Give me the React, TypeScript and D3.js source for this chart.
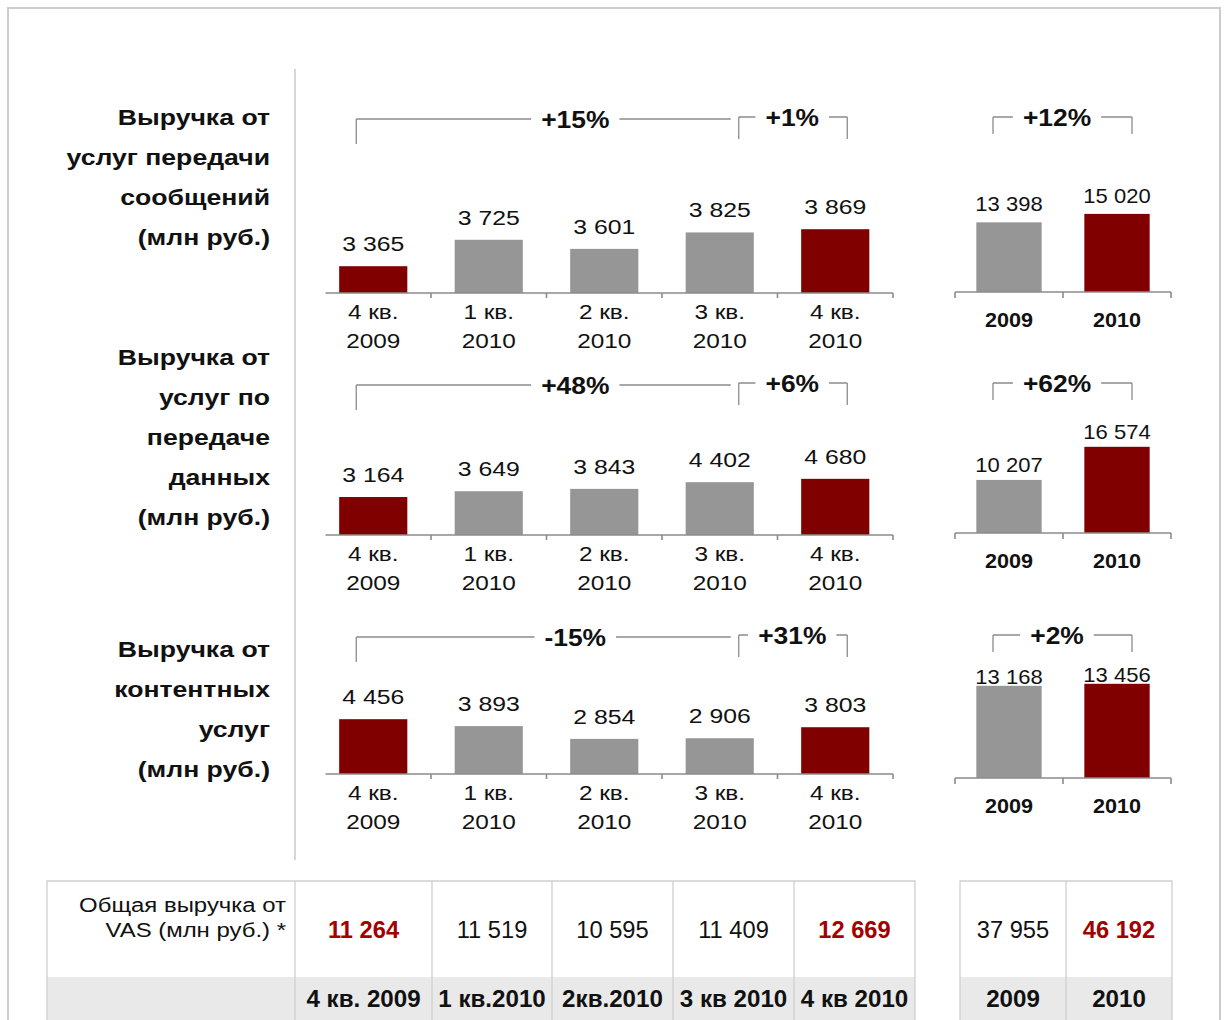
import React from "react";
import * as d3 from "d3";

// ---------- data ----------
const quarterLine1 = ["4 кв.", "1 кв.", "2 кв.", "3 кв.", "4 кв."];
const quarterLine2 = ["2009", "2010", "2010", "2010", "2010"];
const years = ["2009", "2010"];

const msgQuarterly = [3365, 3725, 3601, 3825, 3869];
const msgAnnual = [13398, 15020];
const dataQuarterly = [3164, 3649, 3843, 4402, 4680];
const dataAnnual = [10207, 16574];
const contentQuarterly = [4456, 3893, 2854, 2906, 3803];
const contentAnnual = [13168, 13456];

const msgGrowth = ["+15%", "+1%", "+12%"];
const dataGrowth = ["+48%", "+6%", "+62%"];
const contentGrowth = ["-15%", "+31%", "+2%"];

const msgTitle = ["Выручка от", "услуг передачи", "сообщений", "(млн руб.)"];
const dataTitle = ["Выручка от", "услуг по", "передаче", "данных", "(млн руб.)"];
const contentTitle = ["Выручка от", "контентных", "услуг", "(млн руб.)"];

const tableLabel = ["Общая выручка от", "VAS (млн руб.) *"];
const tableQuarterValues = ["11 264", "11 519", "10 595", "11 409", "12 669"];
const tableAnnualValues = ["37 955", "46 192"];
const tableQuarterHeaders = ["4 кв. 2009", "1 кв.2010", "2кв.2010", "3 кв 2010", "4 кв 2010"];
const tableYearHeaders = ["2009", "2010"];

const highlightQuarter = [true, false, false, false, true];
const highlightYear = [false, true];

// ---------- style ----------
const FONT = "'Liberation Sans', Arial, Helvetica, sans-serif";
const RED = "#800000";
const GRAY = "#969696";
const TXT_RED = "#a30000";
const AXIS = "#8c8c8c";
const BRACKET = "#8c8c8c";

const W = 1226;
const H = 1020;

const fmt = (v: number) => d3.format(",")(v).replace(/,/g, " ");

const xQ = d3
  .scaleBand<number>()
  .domain(d3.range(5))
  .range([315.5, 893])
  .paddingInner(0.41)
  .paddingOuter(0.205);

const xA = d3
  .scaleBand<number>()
  .domain(d3.range(2))
  .range([955, 1171])
  .paddingInner(0.395)
  .paddingOuter(0.1975);

type Panel = {
  title: string[];
  titleY: number;
  q: number[];
  a: number[];
  growth: string[];
  baseQ: number;
  baseA: number;
  qDomain: [number, number];
  qPix: number;
  aDomain: [number, number];
  aPix: number;
  aLabelOff: number;
  pctY: number;
};

const panels: Panel[] = [
  {
    title: msgTitle, titleY: 117, q: msgQuarterly, a: msgAnnual, growth: msgGrowth,
    baseQ: 293, baseA: 292, qDomain: [3000, 4000], qPix: 73.4, aDomain: [0, 20000], aPix: 104,
    aLabelOff: 11, pctY: 117,
  },
  {
    title: dataTitle, titleY: 357, q: dataQuarterly, a: dataAnnual, growth: dataGrowth,
    baseQ: 535, baseA: 533, qDomain: [0, 5000], qPix: 60, aDomain: [0, 20000], aPix: 104,
    aLabelOff: 8, pctY: 383,
  },
  {
    title: contentTitle, titleY: 649, q: contentQuarterly, a: contentAnnual, growth: contentGrowth,
    baseQ: 774, baseA: 778, qDomain: [0, 5000], qPix: 61.5, aDomain: [0, 20000], aPix: 140,
    aLabelOff: 2, pctY: 635,
  },
];

// horizontally stretched text (the reference slide is rendered slightly wide)
function SText({ x, y, sx = 1, children, ...rest }: any) {
  return (
    <text transform={`translate(${x},${y}) scale(${sx},1)`} {...rest}>
      {children}
    </text>
  );
}

const charW: Record<string, number> = { "+": 0.584, "-": 0.333, "%": 0.889 };
function pctWidth(s: string, size: number, sx: number) {
  let w = 0;
  for (const c of s) w += charW[c] ?? 0.556;
  return w * size * sx;
}

function Bracket({ x1, x2, tx, y, tick, label, leftTick = true, rightTick = true }: any) {
  const size = 24;
  const sx = 1.1;
  const half = Math.min(pctWidth(label, size, sx) / 2 + 10, 45);
  return (
    <g>
      <path
        d={`M${x1},${y}H${Math.max(x1, tx - half)}M${Math.min(x2, tx + half)},${y}H${x2}` +
          (leftTick ? `M${x1},${y}V${y + tick}` : "") +
          (rightTick ? `M${x2},${y}V${y + tick}` : "")}
        stroke={BRACKET}
        strokeWidth={1.3}
        fill="none"
      />
      <SText x={tx} y={y + 8.5} sx={sx} textAnchor="middle" fontSize={size} fontWeight="bold">
        {label}
      </SText>
    </g>
  );
}

function PanelView({ p }: { p: Panel }) {
  const yQ = d3.scaleLinear().domain(p.qDomain).range([p.baseQ, p.baseQ - p.qPix]);
  const yA = d3.scaleLinear().domain(p.aDomain).range([p.baseA, p.baseA - p.aPix]);
  const bw = xQ.bandwidth();
  const bwA = xA.bandwidth();
  const cx = (i: number) => (xQ(i) as number) + bw / 2;
  const cxA = (i: number) => (xA(i) as number) + bwA / 2;
  const step = xQ.step();
  const [q0, q1] = xQ.range();
  const [a0, a1] = xA.range();
  return (
    <g>
      {p.title.map((t, i) => (
        <SText key={i} x={270} y={p.titleY + 8 + i * 40} sx={1.21} textAnchor="end" fontSize={22} fontWeight="bold">
          {t}
        </SText>
      ))}
      {/* quarterly bars */}
      {p.q.map((v, i) => (
        <g key={i}>
          <rect
            x={xQ(i)}
            y={yQ(v)}
            width={bw}
            height={p.baseQ - yQ(v)}
            fill={highlightQuarter[i] ? RED : GRAY}
          />
          <SText x={cx(i)} y={yQ(v) - 15} sx={1.18} textAnchor="middle" fontSize={21}>
            {fmt(v)}
          </SText>
          <SText x={cx(i)} y={p.baseQ + 26} sx={1.16} textAnchor="middle" fontSize={21}>
            {quarterLine1[i]}
          </SText>
          <SText x={cx(i)} y={p.baseQ + 55} sx={1.16} textAnchor="middle" fontSize={21}>
            {quarterLine2[i]}
          </SText>
        </g>
      ))}
      <path
        d={`M${q0 + 10},${p.baseQ}H${q1}` +
          d3.range(1, 6).map((k) => `M${q0 + k * step},${p.baseQ}v5`).join("")}
        stroke={AXIS}
        strokeWidth={1.6}
        fill="none"
      />
      {/* annual bars */}
      {p.a.map((v, i) => (
        <g key={i}>
          <rect
            x={xA(i)}
            y={yA(v)}
            width={bwA}
            height={p.baseA - yA(v)}
            fill={highlightYear[i] ? RED : GRAY}
          />
          <SText x={cxA(i)} y={yA(v) - p.aLabelOff} sx={1.1} textAnchor="middle" fontSize={20}>
            {fmt(v)}
          </SText>
          <SText x={cxA(i)} y={p.baseA + 35} sx={1.08} textAnchor="middle" fontSize={20} fontWeight="bold">
            {years[i]}
          </SText>
        </g>
      ))}
      <path
        d={`M${a0},${p.baseA}H${a1}` +
          d3.range(0, 3).map((k) => `M${a0 + k * xA.step()},${p.baseA}v6`).join("")}
        stroke={AXIS}
        strokeWidth={1.6}
        fill="none"
      />
      {/* growth brackets */}
      <Bracket
        x1={cx(0) - 17}
        x2={cx(3) + 11}
        tx={cx(2) - 29}
        y={p.pctY + 2}
        tick={25}
        label={p.growth[0]}
        rightTick={false}
      />
      <Bracket x1={cx(3) + 19} x2={cx(4) + 12} tx={cx(4) - 43} y={p.pctY} tick={22} label={p.growth[1]} />
      <Bracket x1={cxA(0) - 16} x2={cxA(1) + 15} tx={(cxA(0) + cxA(1)) / 2 - 6} y={p.pctY} tick={17} label={p.growth[2]} />
    </g>
  );
}

const tableCols = [295, 432, 552, 673, 794, 915];
const tableColsA = [960, 1066, 1172];

function Table() {
  const top = 881;
  const mid = 977;
  const bot = 1030;
  return (
    <g>
      <rect x={47} y={mid} width={915 - 47} height={bot - mid} fill="#e9e9e9" />
      <rect x={960} y={mid} width={1172 - 960} height={bot - mid} fill="#e9e9e9" />
      <path
        d={`M47,${bot}V${top}H915V${bot}` +
          tableCols.map((x) => `M${x},${top}V${bot}`).join("") +
          `M960,${bot}V${top}H1172V${bot}` +
          tableColsA.map((x) => `M${x},${top}V${bot}`).join("")}
        stroke="#cfcfcf"
        strokeWidth={1.3}
        fill="none"
      />
      {tableLabel.map((t, i) => (
        <SText key={i} x={286} y={911.5 + i * 25} sx={1.14} textAnchor="end" fontSize={21}>
          {t}
        </SText>
      ))}
      {tableQuarterValues.map((t, i) => {
        const cx = (tableCols[i] + tableCols[i + 1]) / 2;
        return (
          <g key={i}>
            <SText
              x={cx}
              y={937.5}
              sx={1.03}
              textAnchor="middle"
              fontSize={23}
              fontWeight={highlightQuarter[i] ? "bold" : "normal"}
              fill={highlightQuarter[i] ? TXT_RED : "#111"}
            >
              {t}
            </SText>
            <SText x={cx} y={1007} sx={1.05} textAnchor="middle" fontSize={23} fontWeight="bold">
              {tableQuarterHeaders[i]}
            </SText>
          </g>
        );
      })}
      {tableAnnualValues.map((t, i) => {
        const cx = (tableColsA[i] + tableColsA[i + 1]) / 2;
        return (
          <g key={i}>
            <SText
              x={cx}
              y={937.5}
              sx={1.03}
              textAnchor="middle"
              fontSize={23}
              fontWeight={highlightYear[i] ? "bold" : "normal"}
              fill={highlightYear[i] ? TXT_RED : "#111"}
            >
              {t}
            </SText>
            <SText x={cx} y={1007} sx={1.05} textAnchor="middle" fontSize={23} fontWeight="bold">
              {tableYearHeaders[i]}
            </SText>
          </g>
        );
      })}
    </g>
  );
}

export default function App() {
  return (
    <svg
      width={W}
      height={H}
      viewBox={`0 0 ${W} ${H}`}
      style={{ position: "absolute", left: 0, top: 0, background: "#fff" }}
      fontFamily={FONT}
      fill="#111"
    >
      <rect x={0} y={0} width={W} height={H} fill="#fff" />
      <rect x={8} y={8} width={1212} height={1100} fill="none" stroke="#cccccc" strokeWidth={2} />
      <line x1={295} y1={69} x2={295} y2={860} stroke="#bdbdbd" strokeWidth={1.2} />
      {panels.map((p, i) => (
        <PanelView key={i} p={p} />
      ))}
      <Table />
    </svg>
  );
}
